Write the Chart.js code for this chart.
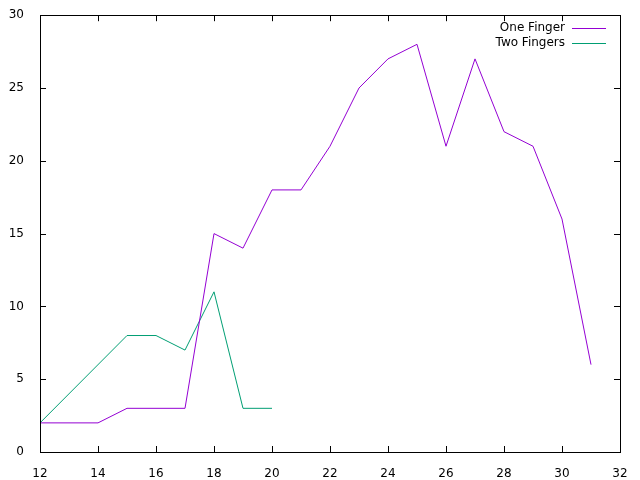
<!DOCTYPE html>
<html>
<head>
<meta charset="utf-8">
<script src="https://cdn.jsdelivr.net/npm/chart.js@4.4.1/dist/chart.umd.min.js"></script>
<style>
  html, body { margin: 0; padding: 0; background: #fff; }
  #wrap { width: 640px; height: 480px; }
</style>
</head>
<body>
<div id="wrap"><canvas id="chart" width="640" height="480"></canvas></div>
<script>
// datos
const oneFingerX = [12, 13, 14, 15, 16, 17, 18, 19, 20, 21, 22, 23, 24, 25, 26, 27, 28, 29, 30, 31];
const oneFingerY = [2, 2, 2, 3, 3, 3, 15, 14, 18, 18, 21, 25, 27, 28, 21, 27, 22, 21, 16, 6];
const twoFingersX = [12, 15, 16, 17, 18, 19, 20];
const twoFingersY = [2, 8, 8, 7, 11, 3, 3];
const xTicks = [12, 14, 16, 18, 20, 22, 24, 26, 28, 30, 32];
const yTicks = [0, 5, 10, 15, 20, 25, 30];

const seriesNames = ['One Finger', 'Two Fingers'];
const seriesColors = ['#9400d3', '#009e73'];
const FONT = '12px "DejaVu Sans", sans-serif';

function toPoints(xs, ys) {
    return xs.map((x, i) => ({ x: x, y: ys[i] }));
}

// marco y marcas hacia dentro, estilo gnuplot
const borderPlugin = {
    id: 'gnuplotBorder',
    afterDraw(chart) {
        const ctx = chart.ctx;
        const a = chart.chartArea;
        const xs = chart.scales.x;
        const ys = chart.scales.y;
        ctx.save();
        ctx.strokeStyle = '#000';
        ctx.lineWidth = 1;
        ctx.beginPath();
        xTicks.forEach(v => {
            const px = Math.round(xs.getPixelForValue(v)) + 0.5;
            ctx.moveTo(px, a.bottom);
            ctx.lineTo(px, a.bottom - 6);
            ctx.moveTo(px, a.top);
            ctx.lineTo(px, a.top + 6);
        });
        yTicks.forEach(v => {
            const py = Math.round(ys.getPixelForValue(v)) + 0.5;
            ctx.moveTo(a.left, py);
            ctx.lineTo(a.left + 6, py);
            ctx.moveTo(a.right, py);
            ctx.lineTo(a.right - 6, py);
        });
        ctx.stroke();
        ctx.strokeRect(Math.round(a.left) + 0.5, Math.round(a.top) + 0.5,
            Math.round(a.right - a.left), Math.round(a.bottom - a.top));

        // leyenda
        ctx.font = FONT;
        ctx.textAlign = 'right';
        ctx.textBaseline = 'middle';
        seriesNames.forEach((name, i) => {
            const y = 28 + i * 14.5;
            ctx.fillStyle = '#000';
            ctx.fillText(name, 565, y);
            ctx.strokeStyle = seriesColors[i];
            ctx.beginPath();
            ctx.moveTo(572, Math.round(y) + 0.5);
            ctx.lineTo(606, Math.round(y) + 0.5);
            ctx.stroke();
        });
        ctx.restore();
    }
};

new Chart(document.getElementById('chart'), {
    type: 'line',
    data: {
        datasets: [
            {
                label: seriesNames[0],
                data: toPoints(oneFingerX, oneFingerY),
                borderColor: seriesColors[0],
                borderWidth: 1,
                pointRadius: 0,
                tension: 0,
                fill: false
            },
            {
                label: seriesNames[1],
                data: toPoints(twoFingersX, twoFingersY),
                borderColor: seriesColors[1],
                borderWidth: 1,
                pointRadius: 0,
                tension: 0,
                fill: false
            }
        ]
    },
    options: {
        responsive: false,
        animation: false,
        layout: { padding: { top: 15, right: 20, left: 0, bottom: 0 } },
        plugins: {
            legend: { display: false },
            tooltip: { enabled: false }
        },
        scales: {
            x: {
                type: 'linear',
                min: 12,
                max: 32,
                afterBuildTicks(scale) { scale.ticks = xTicks.map(v => ({ value: v })); },
                afterFit(scale) { scale.height = 28; },
                grid: { display: false },
                border: { display: false },
                ticks: {
                    color: '#000',
                    font: { family: '"DejaVu Sans", sans-serif', size: 12 },
                    padding: 7,
                    maxRotation: 0
                }
            },
            y: {
                min: 0,
                max: 30,
                afterBuildTicks(scale) { scale.ticks = yTicks.map(v => ({ value: v })); },
                afterFit(scale) { scale.width = 40; },
                grid: { display: false },
                border: { display: false },
                ticks: {
                    color: '#000',
                    font: { family: '"DejaVu Sans", sans-serif', size: 12 },
                    padding: 8
                }
            }
        }
    },
    plugins: [borderPlugin]
});
</script>
</body>
</html>
